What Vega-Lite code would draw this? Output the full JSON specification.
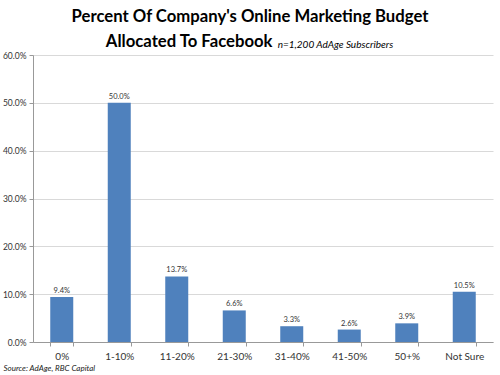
{
  "$schema": "https://vega.github.io/schema/vega-lite/v6.json",
  "width": 460,
  "height": 287,
  "autosize": {"type": "none"},
  "padding": {"left": 33, "top": 55, "right": 7, "bottom": 33},
  "background": "white",
  "title": {
    "text": ["Percent Of Company's Online Marketing Budget", "Allocated To Facebook\u00a0\u00a0\u00a0\u00a0\u00a0\u00a0\u00a0\u00a0\u00a0\u00a0\u00a0\u00a0\u00a0\u00a0\u00a0\u00a0\u00a0\u00a0\u00a0\u00a0\u00a0\u00a0\u00a0\u00a0\u00a0\u00a0\u00a0\u00a0\u00a0\u00a0\u200b"],
    "subtitle": "\u200b\u00a0\u00a0\u00a0\u00a0\u00a0\u00a0\u00a0\u00a0\u00a0\u00a0\u00a0\u00a0\u00a0\u00a0\u00a0\u00a0\u00a0\u00a0\u00a0\u00a0\u00a0\u00a0\u00a0\u00a0\u00a0\u00a0\u00a0\u00a0\u00a0\u00a0\u00a0\u00a0\u00a0\u00a0\u00a0\u00a0\u00a0\u00a0\u00a0\u00a0\u00a0\u00a0\u00a0\u00a0\u00a0\u00a0\u00a0\u00a0\u00a0\u00a0\u00a0\u00a0\u00a0\u00a0\u00a0\u00a0\u00a0\u00a0\u00a0\u00a0\u00a0\u00a0\u00a0\u00a0\u00a0\u00a0\u00a0\u00a0\u00a0\u00a0\u00a0\u00a0\u00a0n=1,200 AdAge Subscribers",
    "anchor": "middle",
    "dx": -13,
    "font": "Lato",
    "fontSize": 16.7,
    "fontWeight": "bold",
    "color": "#000000",
    "lineHeight": 25,
    "subtitleFont": "Lato",
    "subtitleFontSize": 10,
    "subtitleFontStyle": "italic",
    "subtitleColor": "#000000",
    "subtitlePadding": -11,
    "offset": 0
  },
  "data": {
    "values": [
      {"category": "0%", "share": 0.094},
      {"category": "1-10%", "share": 0.5},
      {"category": "11-20%", "share": 0.137},
      {"category": "21-30%", "share": 0.066},
      {"category": "31-40%", "share": 0.033},
      {"category": "41-50%", "share": 0.026},
      {"category": "50+%", "share": 0.039},
      {"category": "Not Sure", "share": 0.105}
    ]
  },
  "encoding": {
    "x": {
      "field": "category",
      "type": "nominal",
      "sort": null,
      "scale": {"paddingInner": 0.6, "paddingOuter": 0.3},
      "axis": {
        "title": "Source: AdAge, RBC Capital",
        "titleFont": "Lato",
        "titleFontSize": 8,
        "titleFontStyle": "italic",
        "titleFontWeight": "normal",
        "titleColor": "#222222",
        "titleAnchor": "start",
        "titleAlign": "left",
        "titleBaseline": "alphabetic",
        "titleX": -30,
        "titleY": 28,
        "labelAngle": 0,
        "labelFont": "Lato",
        "labelFontSize": 10,
        "labelColor": "#333333",
        "labelPadding": 5,
        "tickBand": "extent",
        "tickSize": 4,
        "tickColor": "#999999",
        "domainColor": "#999999",
        "grid": false
      }
    },
    "y": {
      "field": "share",
      "type": "quantitative",
      "scale": {"domain": [0, 0.6], "nice": false},
      "axis": {
        "title": null,
        "values": [0, 0.1, 0.2, 0.3, 0.4, 0.5, 0.6],
        "format": ".1%",
        "labelFont": "Lato",
        "labelFontSize": 8.5,
        "labelColor": "#333333",
        "labelPadding": 3,
        "tickSize": 4,
        "tickColor": "#999999",
        "domainColor": "#999999",
        "gridColor": "#d9d9d9"
      }
    }
  },
  "layer": [
    {"mark": {"type": "bar", "color": "#4f81bd"}},
    {
      "mark": {"type": "text", "dy": -6, "font": "Lato", "fontSize": 7.5, "color": "#333333"},
      "encoding": {"text": {"field": "share", "type": "quantitative", "format": ".1%"}}
    }
  ],
  "config": {"view": {"stroke": null}}
}
